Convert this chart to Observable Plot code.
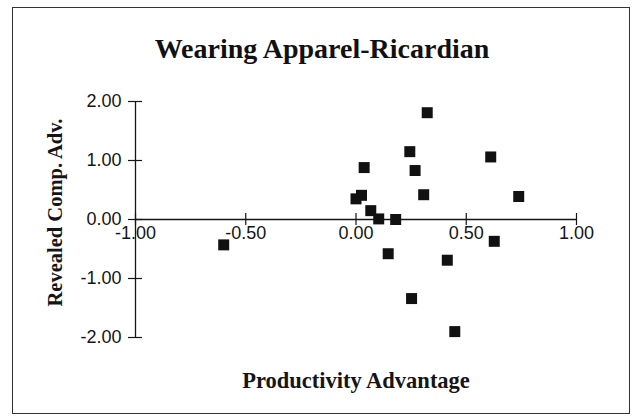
<!DOCTYPE html>
<html><head><meta charset="utf-8">
<script src="https://cdn.jsdelivr.net/npm/d3@7"></script>
<script src="https://cdn.jsdelivr.net/npm/@observablehq/plot@0.6"></script>
<style>
body{margin:0;background:#fff;}
#wrap{position:relative;width:637px;height:417px;overflow:hidden;}
#box{position:absolute;left:12px;top:7px;width:618px;height:407px;border:1.5px solid #333;box-sizing:border-box;}
#title{position:absolute;left:0;width:644px;top:35px;line-height:28px;text-align:center;font-weight:bold;font-size:28px;font-family:"Liberation Serif",serif;color:#111;}
#chart{position:absolute;left:0;top:0;}
</style></head><body>
<div id="wrap"><div id="box"></div><div id="title">Wearing Apparel-Ricardian</div><div id="chart"></div></div>
<script>
const productivity = [-0.60, 0.00, 0.025, 0.037, 0.067, 0.103, 0.146, 0.18, 0.244, 0.252, 0.268, 0.307, 0.323, 0.414, 0.448, 0.611, 0.627, 0.738];
const revealedCompAdv = [-0.43, 0.35, 0.41, 0.88, 0.15, 0.01, -0.58, 0.00, 1.15, -1.34, 0.83, 0.42, 1.81, -0.69, -1.90, 1.06, -0.37, 0.39];
const xTicks = [-1, -0.5, 0, 0.5, 1];
const yTicks = [-2, -1, 0, 1, 2];
const xLabel = "Productivity Advantage";
const yLabel = "Revealed Comp. Adv.";

const data = productivity.map((x, i) => ({x, y: revealedCompAdv[i]}));
const ink = "#151515";
const sans = "Liberation Sans, Arial, sans-serif";
const serif = "Liberation Serif, Times New Roman, serif";

const chart = Plot.plot({
  width: 637, height: 417,
  marginLeft: 135, marginRight: 61, marginTop: 101, marginBottom: 80,
  x: {domain: [-1, 1], axis: null},
  y: {domain: [-2, 2], axis: null},
  style: {background: "transparent", color: ink},
  marks: [
    Plot.ruleY([0], {x1: -1, x2: 1, stroke: ink, strokeWidth: 1.3}),
    Plot.ruleX([-1], {y1: -2, y2: 2, stroke: ink, strokeWidth: 1.3}),
    Plot.ruleX(xTicks, {x: d => d, y1: 0, y2: 0, insetTop: -6, insetBottom: -6, stroke: ink, strokeWidth: 1.2}),
    Plot.ruleY(yTicks, {y: d => d, x1: -1, x2: -1, insetLeft: -7, insetRight: -7, stroke: ink, strokeWidth: 1.2}),
    Plot.text(xTicks, {x: d => d, y: 0, dy: 14, text: d => d.toFixed(2), fontSize: 18, fontFamily: sans, fill: ink}),
    Plot.text(yTicks, {x: -1, y: d => d, dx: -14, textAnchor: "end", text: d => d.toFixed(2), fontSize: 18, fontFamily: sans, fill: ink}),
    Plot.dot(data, {x: "x", y: "y", symbol: "square", r: 6.2, fill: "#111", stroke: "none"}),
    Plot.text([xLabel], {frameAnchor: "bottom", dy: 50, text: d => d, fontSize: 22.5, fontWeight: "bold", fontFamily: serif, fill: ink}),
    Plot.text([yLabel], {frameAnchor: "left", dx: -80, dy: -7, rotate: -90, textAnchor: "middle", text: d => d, fontSize: 20.5, fontWeight: "bold", fontFamily: serif, fill: ink})
  ]
});
document.getElementById("chart").appendChild(chart);
</script>
</body></html>
